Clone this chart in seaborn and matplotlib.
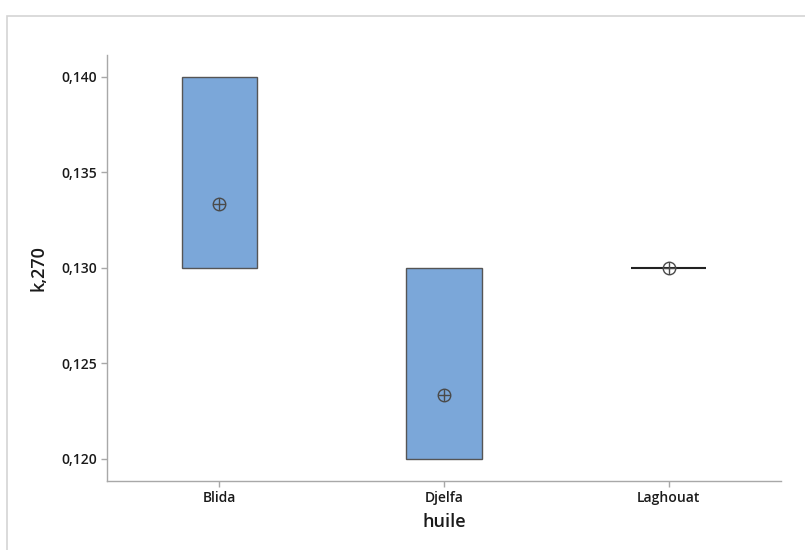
import numpy as np
import pandas as pd
import matplotlib
matplotlib.use("Agg")
import matplotlib.pyplot as plt
import matplotlib.path as mpath
from matplotlib.patches import Rectangle
import seaborn as sns

# ---- data ----
categories = ["Blida", "Djelfa", "Laghouat"]
blida = [0.130, 0.130, 0.140]
djelfa = [0.120, 0.120, 0.130]
laghouat = [0.130, 0.130, 0.130]
y_ticks = [0.120, 0.125, 0.130, 0.135, 0.140]
y_tick_labels = ["0,120", "0,125", "0,130", "0,135", "0,140"]

groups = [blida, djelfa, laghouat]
long_df = pd.DataFrame({
    "huile": np.repeat(categories, [len(g) for g in groups]),
    "k,270": np.concatenate(groups),
})

# Minitab-style quartiles ((n+1)p positions)
q1 = [np.percentile(g, 25, method="weibull") for g in groups]
q3 = [np.percentile(g, 75, method="weibull") for g in groups]
box_df = pd.DataFrame({"huile": categories,
                       "height": np.array(q3) - np.array(q1),
                       "q1": q1})

sns.set_theme(style="white")
plt.rcParams["font.family"] = ["Open Sans", "DejaVu Sans"]

fig = plt.figure(figsize=(8.05, 5.5), dpi=100)
ax = fig.add_axes([107 / 805, 1 - 481 / 550, (781 - 107) / 805, (481 - 55) / 550])

box_color = "#7BA7D9"
edge_color = "#555555"

bars = sns.barplot(data=box_df, x="huile", y="height", order=categories,
                   bottom=box_df["q1"].values, width=0.335, color=box_color,
                   errorbar=None, ax=ax, saturation=1,
                   edgecolor=edge_color, linewidth=1.0)
for p, h in zip(ax.patches, box_df["height"]):
    if h == 0:
        p.set_edgecolor("#222222")
        p.set_linewidth(1.5)

# mean symbol: circle with cross
circ = mpath.Path.unit_circle()
hline = mpath.Path([[-1, 0], [1, 0]], [mpath.Path.MOVETO, mpath.Path.LINETO])
vline = mpath.Path([[0, -1], [0, 1]], [mpath.Path.MOVETO, mpath.Path.LINETO])
oplus = mpath.Path.make_compound_path(circ, hline, vline)

sns.pointplot(data=long_df, x="huile", y="k,270", order=categories,
              estimator="mean", errorbar=None, linestyle="none",
              marker=oplus, markersize=9, markerfacecolor="none",
              markeredgecolor="#4a4a4a", markeredgewidth=1.0,
              color="#4a4a4a", ax=ax)

ax.set_xlim(-0.5, 2.5)
ax.set_ylim(0.11883, 0.14115)
ax.set_yticks(y_ticks)
ax.set_yticklabels(y_tick_labels)

for s in ["top", "right"]:
    ax.spines[s].set_visible(False)
for s in ["left", "bottom"]:
    ax.spines[s].set_color("#A8A8A8")
    ax.spines[s].set_linewidth(1.0)

ax.tick_params(axis="both", which="both", direction="out", length=4,
               width=1.0, color="#A8A8A8", labelsize=10, pad=3,
               labelcolor="#1a1a1a")
ax.tick_params(left=True, bottom=True)
for lab in ax.get_xticklabels() + ax.get_yticklabels():
    lab.set_fontweight("semibold")

ax.set_xlabel("huile", fontsize=13, fontweight="semibold", color="#1a1a1a", labelpad=6)
ax.set_ylabel("k,270", fontsize=13, fontweight="semibold", color="#1a1a1a", labelpad=10)

# outer light frame
fig.patches.append(Rectangle((7 / 805, -0.2), 1.2, 1.2 + (1 - 16 / 550) - 1 + 0.0,
                             transform=fig.transFigure, fill=False,
                             edgecolor="#D4D4D4", linewidth=1.2))

fig.savefig("out.png", dpi=100)
